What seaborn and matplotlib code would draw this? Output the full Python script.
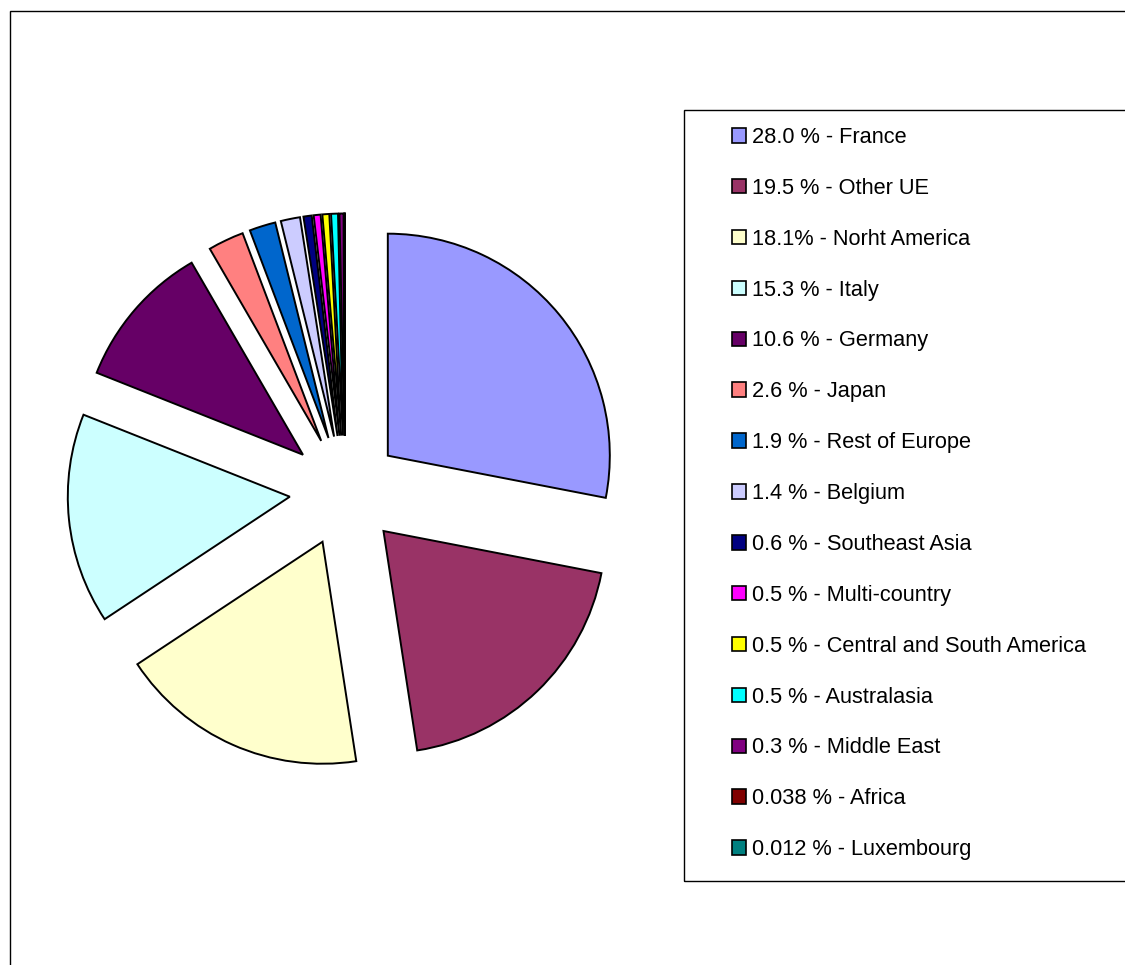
import matplotlib
matplotlib.use("Agg")
import matplotlib.pyplot as plt
import seaborn as sns
from matplotlib.patches import Rectangle

sns.set_theme(style="white")
plt.rcParams['font.family'] = ['Liberation Sans', 'DejaVu Sans']
plt.rcParams['text.color'] = 'black'

regions = ["France", "Other UE", "Norht America", "Italy", "Germany", "Japan",
           "Rest of Europe", "Belgium", "Southeast Asia", "Multi-country",
           "Central and South America", "Australasia", "Middle East", "Africa",
           "Luxembourg"]
shares = [28.0, 19.5, 18.1, 15.3, 10.6, 2.6, 1.9, 1.4, 0.6, 0.5, 0.5, 0.5, 0.3, 0.038, 0.012]
share_labels = ["28.0 %", "19.5 %", "18.1%", "15.3 %", "10.6 %", "2.6 %", "1.9 %",
                "1.4 %", "0.6 %", "0.5 %", "0.5 %", "0.5 %", "0.3 %", "0.038 %", "0.012 %"]
colors = ["#9999FF", "#993366", "#FFFFCC", "#CCFFFF", "#660066", "#FF8080",
          "#0066CC", "#CCCCFF", "#000080", "#FF00FF", "#FFFF00", "#00FFFF",
          "#800080", "#800000", "#008080"]

W, H = 1125, 965
fig = plt.figure(figsize=(W / 100, H / 100), dpi=100)
fig.patch.set_facecolor("white")

# outer chart-area border (cut off at right/bottom)
fig.patches.append(Rectangle((10 / W, -0.1), 1.2, 1 - 11 / H + 0.1, transform=fig.transFigure,
                             fill=False, edgecolor="black", linewidth=1.0))

cx, cy, r = 345, 491, 222
half = 1.5 * r
ax = fig.add_axes([(cx - half) / W, (H - cy - half) / H, 2 * half / W, 2 * half / H])
wedges, _ = ax.pie(shares, colors=colors, startangle=90, counterclock=False,
                   explode=[0.25] * len(shares), radius=1,
                   wedgeprops=dict(edgecolor="black", linewidth=1.4))
ax.set_xlim(-1.5, 1.5)
ax.set_ylim(-1.5, 1.5)
ax.set_aspect("equal")
ax.axis("off")

# legend frame (extends beyond the right edge)
fig.patches.append(Rectangle((684 / W, 1 - 881 / H), 1.0, (881 - 110) / H,
                             transform=fig.transFigure, fill=False,
                             edgecolor="black", linewidth=1.0))

labels = [f"{p} - {n}" for p, n in zip(share_labels, regions)]
leg = fig.legend(wedges, labels, loc="upper left",
                 bbox_to_anchor=(732 / W, 1 - 127 / H), bbox_transform=fig.transFigure,
                 frameon=False, fontsize=15.7, borderpad=0, borderaxespad=0,
                 handlelength=0.64, handleheight=0.64, handletextpad=0.28,
                 labelspacing=1.37)
for t in leg.get_texts():
    t.set_color("black")
for h in leg.legend_handles:
    h.set_edgecolor("black")
    h.set_linewidth(1.2)

fig.savefig("out.png", dpi=100)
